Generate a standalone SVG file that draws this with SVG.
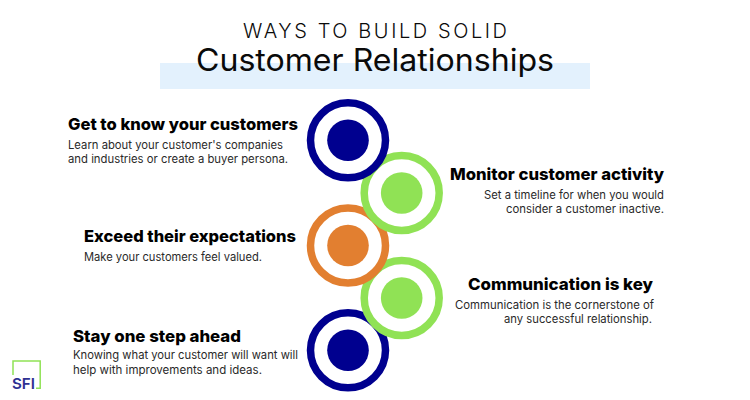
<svg xmlns="http://www.w3.org/2000/svg" width="750" height="400" viewBox="0 0 750 400">
<style>
text{font-family:"Inter","Noto Sans","Liberation Sans",sans-serif;fill:#0a0a0a}
.h{font-size:16.5px;font-weight:800;fill:#000}
.b{font-size:11.5px;fill:#2a2a2a}
.ring{fill:#fff;stroke-width:7.5}
.blue{stroke:#00008f}.blue2{fill:#00008f}
.green{stroke:#90e255}.green2{fill:#90e255}
.orange{stroke:#e27f30}.orange2{fill:#e27f30}
</style>
<rect width="750" height="400" fill="#fff"/>
<g id="title">
<rect x="160" y="63" width="430" height="26" fill="#e3f1fd"/>
<text x="243" y="38" font-size="20" font-weight="300" textLength="264" lengthAdjust="spacing">WAYS TO BUILD SOLID</text>
<text x="196" y="71" font-size="31" textLength="358" lengthAdjust="spacingAndGlyphs">Customer Relationships</text>
</g>
<g id="connectors"></g>
<g id="node5"><circle class="ring blue" cx="348" cy="350.3" r="37.5"/><circle class="blue2" cx="348" cy="350.3" r="20.8"/></g>
<g id="node4"><circle class="ring green" cx="401.7" cy="298" r="37.5"/><circle class="green2" cx="401.7" cy="298" r="20.8"/></g>
<g id="node3"><circle class="ring orange" cx="348" cy="245.5" r="37.5"/><circle class="orange2" cx="348" cy="245.5" r="20.8"/></g>
<g id="node2"><circle class="ring green" cx="401.7" cy="193" r="37.5"/><circle class="green2" cx="401.7" cy="193" r="20.8"/></g>
<g id="node1"><circle class="ring blue" cx="348" cy="140.3" r="37.5"/><circle class="blue2" cx="348" cy="140.3" r="20.8"/></g>
<g id="label1">
<text class="h" x="68" y="130" textLength="230" lengthAdjust="spacingAndGlyphs">Get to know your customers</text>
<text class="b" x="68" y="149" textLength="215" lengthAdjust="spacingAndGlyphs">Learn about your customer's companies</text>
<text class="b" x="68" y="163" textLength="220" lengthAdjust="spacingAndGlyphs">and industries or create a buyer persona.</text>
</g>
<g id="label2">
<text class="h" x="450" y="180" textLength="214" lengthAdjust="spacingAndGlyphs">Monitor customer activity</text>
<text class="b" x="484" y="199" textLength="180" lengthAdjust="spacingAndGlyphs">Set a timeline for when you would</text>
<text class="b" x="506" y="213" textLength="158" lengthAdjust="spacingAndGlyphs">consider a customer inactive.</text>
</g>
<g id="label3">
<text class="h" x="84" y="242" textLength="212" lengthAdjust="spacingAndGlyphs">Exceed their expectations</text>
<text class="b" x="84" y="261" textLength="178" lengthAdjust="spacingAndGlyphs">Make your customers feel valued.</text>
</g>
<g id="label4">
<text class="h" x="468" y="290" textLength="185" lengthAdjust="spacingAndGlyphs">Communication is key</text>
<text class="b" x="455" y="309" textLength="199" lengthAdjust="spacingAndGlyphs">Communication is the cornerstone of</text>
<text class="b" x="504" y="323" textLength="148" lengthAdjust="spacingAndGlyphs">any successful relationship.</text>
</g>
<g id="label5">
<text class="h" x="73" y="342" textLength="168" lengthAdjust="spacingAndGlyphs">Stay one step ahead</text>
<text class="b" x="73" y="359" textLength="225" lengthAdjust="spacingAndGlyphs">Knowing what your customer will want will</text>
<text class="b" x="73" y="374" textLength="189" lengthAdjust="spacingAndGlyphs">help with improvements and ideas.</text>
</g>
<g id="logo">
<path d="M13 375V361H40.2V388.2H36" fill="none" stroke="#90e255" stroke-width="1.5"/>
<text x="12" y="388.7" font-size="15" font-weight="600" style="fill:#2e3192" textLength="23" lengthAdjust="spacingAndGlyphs">SFI</text>
</g>
</svg>
